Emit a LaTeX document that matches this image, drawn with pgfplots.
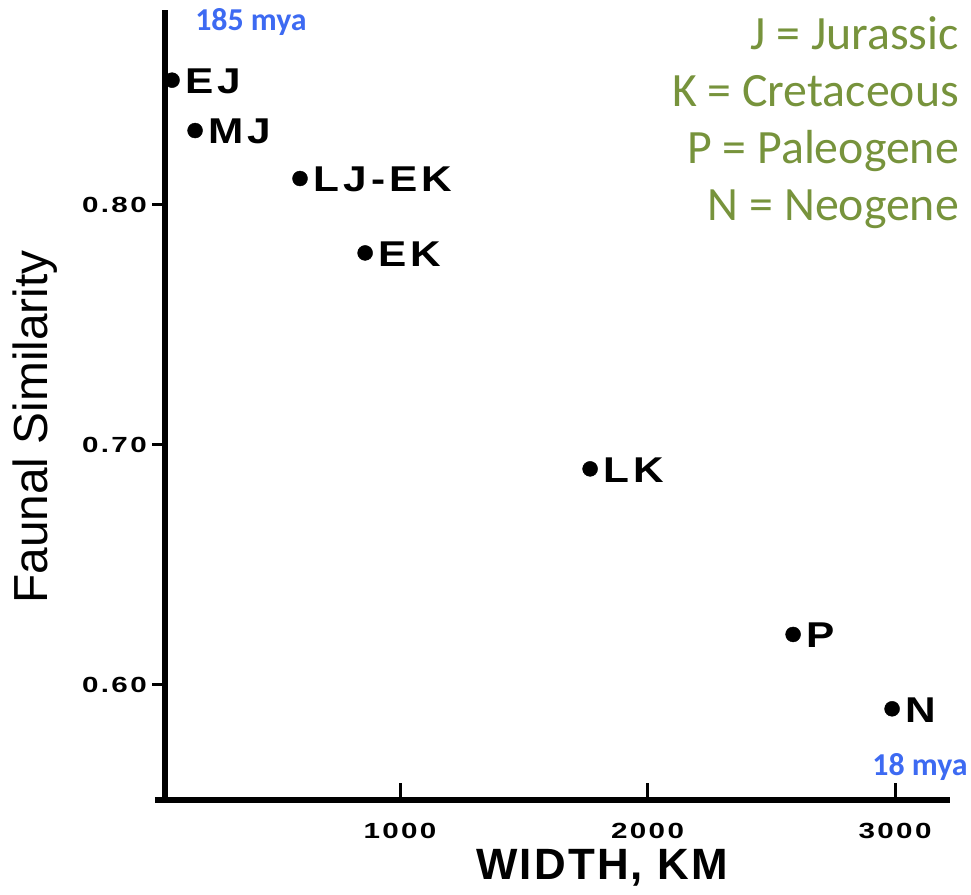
\documentclass[border=0pt]{standalone}
\usepackage{fontspec}
\usepackage{pgfplots}
\pgfplotsset{compat=1.18}
\setmainfont{Liberation Sans}
\newfontfamily\tickfont[LetterSpace=8]{Liberation Sans}
\newfontfamily\ptfont[LetterSpace=10]{Liberation Sans}
\newfontfamily\wfont[LetterSpace=5]{Liberation Sans}
\newfontfamily\carlitofont{Carlito}
\definecolor{legg}{HTML}{77933C}
\definecolor{myablue}{HTML}{3D6AF2}
\pgfplotstableread{
x y lab
79 0.852 EJ
172 0.831 MJ
596 0.811 LJ-EK
859 0.780 EK
1768 0.690 LK
2588 0.621 P
2988 0.590 N
}\pts
\begin{document}
\begin{tikzpicture}[x=1bp,y=1bp]
\useasboundingbox (0,0) rectangle (971,895);
\begin{axis}[
  at={(165bp,95bp)}, anchor=south west,
  scale only axis, width=785bp, height=790bp,
  xmin=50.5, xmax=3222, ymin=0.552, ymax=0.88125,
  axis x line=bottom, axis y line=left,
  axis line style={-, line width=6bp},
  xtick={1000,2000,3000}, xticklabels={1000,2000,3000},
  ytick={0.6,0.7,0.8}, yticklabels={0.60,0.70,0.80},
  tick align=inside,
  major tick length=0pt,
  xticklabel style={font=\tickfont\bfseries\fontsize{22}{24}\selectfont, xscale=1.35, anchor=north, yshift=-20bp},
  yticklabel style={font=\tickfont\bfseries\fontsize{22}{24}\selectfont, xscale=1.35, anchor=east, xshift=-10bp},
  /pgf/number format/assume math mode=true,
  clip=false,
]
\addplot[only marks, mark=*, mark size=7.5bp, black,
  point meta=explicit symbolic,
  nodes near coords={\ptfont\bfseries\fontsize{36}{38}\selectfont\pgfplotspointmeta},
  every node near coord/.append style={anchor=west, inner sep=0pt, xscale=1.18, xshift=11bp, yshift=-1bp}]
  table[x=x, y=y, meta=lab] {\pts};
\coordinate (tx1) at (axis cs:1000,0.552);
\coordinate (tx2) at (axis cs:2000,0.552);
\coordinate (tx3) at (axis cs:3000,0.552);
\coordinate (ty1) at (axis cs:50.5,0.6);
\coordinate (ty2) at (axis cs:50.5,0.7);
\coordinate (ty3) at (axis cs:50.5,0.8);
\coordinate (xl0) at (axis cs:10,0.552);
\coordinate (xl1) at (axis cs:60,0.552);
\end{axis}
\draw[line width=3bp] (tx1) -- ++(0,17);
\draw[line width=3bp] (tx2) -- ++(0,17);
\draw[line width=3bp] (tx3) -- ++(0,17);
\draw[line width=3bp] (ty1) -- ++(-13,0);
\draw[line width=3bp] (ty2) -- ++(-13,0);
\draw[line width=3bp] (ty3) -- ++(-13,0);
\draw[line width=6bp] (xl0) -- (xl1);
\node[rotate=90, font=\fontsize{48}{52}\selectfont] at (35,468) {Faunal Similarity};
\node[inner sep=0pt, font=\wfont\bfseries\fontsize{44}{46}\selectfont] at (602,27) {WIDTH, KM};
\begin{scope}[every node/.style={anchor=base east, text=legg, inner sep=0pt, font=\carlitofont\fontsize{48}{52}\selectfont}]
\node at (959,845) {J = Jurassic};
\node at (959,788) {K = Cretaceous};
\node at (959,731) {P = Paleogene};
\node at (959,674) {N = Neogene};
\end{scope}
\node[text=myablue, font=\carlitofont\bfseries\fontsize{32}{34}\selectfont] at (251,873) {185 mya};
\node[text=myablue, font=\carlitofont\bfseries\fontsize{32}{34}\selectfont] at (920,128) {18 mya};
\end{tikzpicture}
\end{document}
